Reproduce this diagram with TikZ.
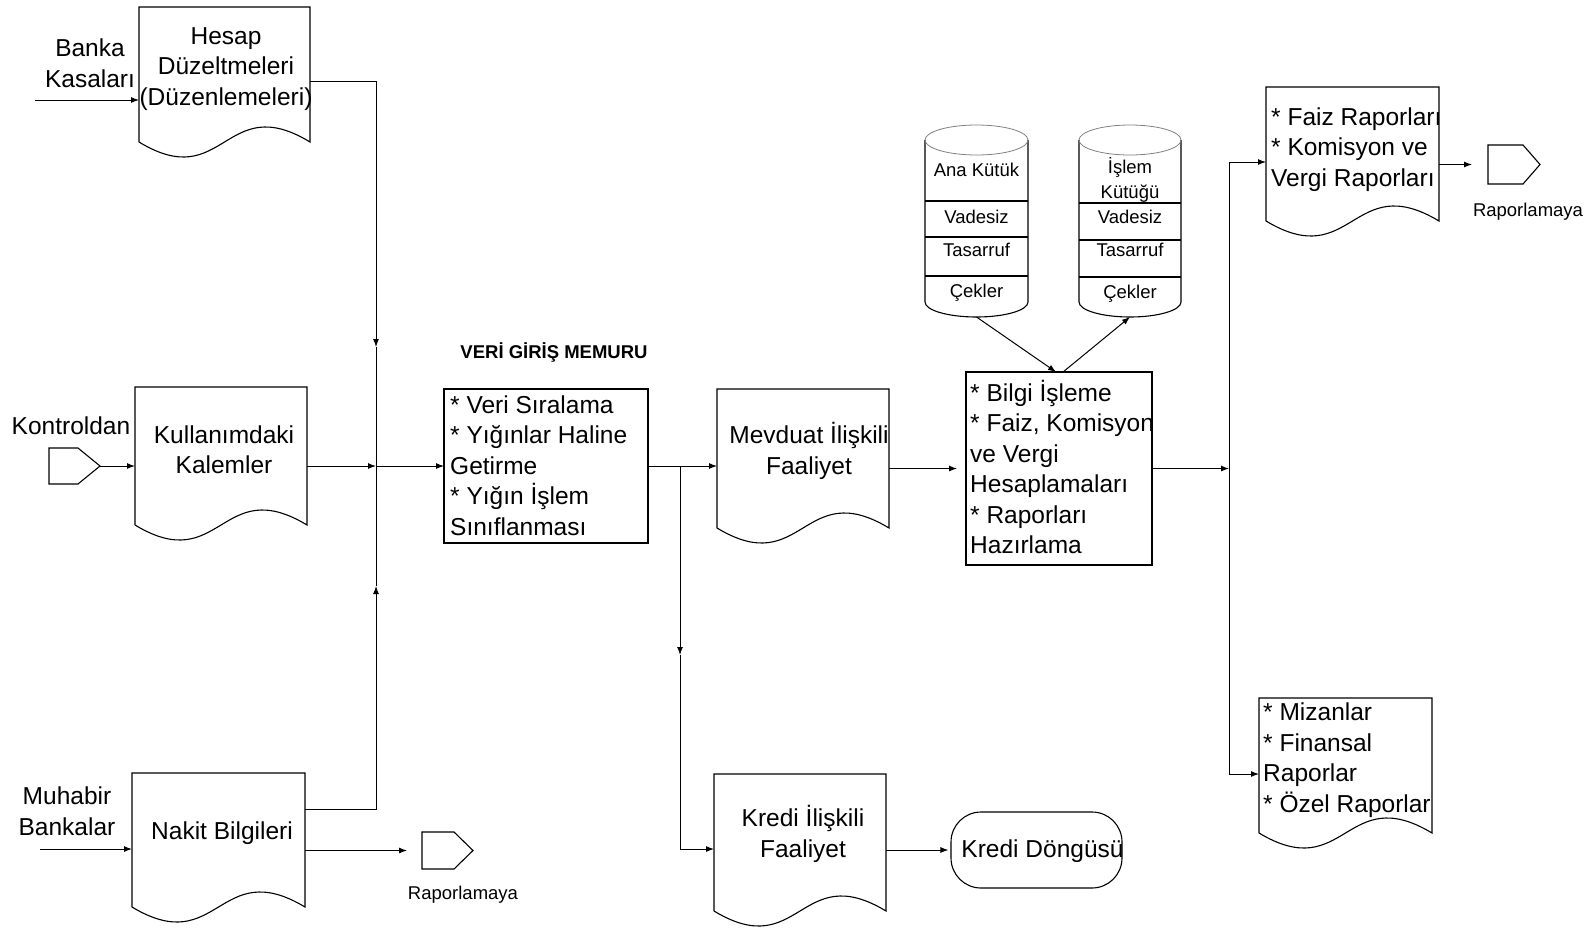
\documentclass[tikz,border=0pt]{standalone}
\usepackage{fontspec}
\setmainfont{Liberation Sans}
\usetikzlibrary{arrows.meta,calc}

\newcommand\mainfs{\fontsize{24.5}{30.5}\selectfont}
\newcommand\smallfs{\fontsize{18.5}{25}\selectfont}

% document symbol: straight top and sides, wavy bottom edge
\newcommand\docoutline[1]{%
  \draw[outline] (#1.south west) -- (#1.north west) -- (#1.north east) -- (#1.south east)
    .. controls ($(#1.south)+(0,-52)$) and ($(#1.south)+(0,52)$) .. (#1.south west);}
% off-page connector pointing right; #2 = length of the point
\newcommand\offpage[2]{%
  \draw[outline] (#1.north west) -- ($(#1.north east)+(-#2,0)$) -- (#1.east)
    -- ($(#1.south east)+(-#2,0)$) -- (#1.south west) -- cycle;}
% disk file: #2 = half width, #3-#5 = y of the record separators
\newcommand\diskfile[5]{%
  \draw[outline] (#1.north west) -- (#1.south west)
    arc[start angle=180,end angle=360,x radius=#2pt,y radius=15pt] -- (#1.north east);
  \draw[faint] (#1.north) ellipse[x radius=#2pt,y radius=15pt];
  \foreach \s in {#3,#4,#5} \draw[sepline] (#1.west |- 0,\s) -- (#1.east |- 0,\s);}

\tikzset{
  outline/.style={line width=1.1pt},
  faint/.style={line width=0.8pt, black!50},
  sepline/.style={line width=1.8pt},
  conn/.style={line width=1pt},
  arr/.style={conn,-{Latex[length=8pt,width=6pt]}},
  area/.style={inner sep=0, outer sep=0, anchor=north west},
  lbl/.style={inner sep=0, font=\mainfs, align=center},
  lbll/.style={inner sep=0, font=\mainfs, align=left, anchor=west},
  small/.style={inner sep=0, font=\smallfs, align=center},
}

\begin{document}
\begin{tikzpicture}[x=1pt,y=-1pt]
\useasboundingbox (0,0) rectangle (1592,929);

% ---- documents
\node[area, minimum width=171, minimum height=135] (hesap) at (139,7) {};
\node[area, minimum width=172, minimum height=138] (kul)   at (135,387) {};
\node[area, minimum width=173, minimum height=134] (nakit) at (132,773) {};
\node[area, minimum width=172, minimum height=139] (mev)   at (717,389) {};
\node[area, minimum width=172, minimum height=137] (kredi) at (714,774) {};
\node[area, minimum width=173, minimum height=134] (faiz)  at (1266,87) {};
\node[area, minimum width=173, minimum height=135] (mizan) at (1259,698) {};
\foreach \d in {hesap,kul,nakit,mev,kredi,faiz,mizan} {\docoutline{\d}}

\node[lbl] (hesapt) at (226,69) {Hesap\\Düzeltmeleri\\(Düzenlemeleri)};
\node[lbl] (kult)   at (224,449.5) {Kullanımdaki\\Kalemler};
\node[lbl] (nakitt) at (222,833) {Nakit Bilgileri};
\node[lbl] (mevt)   at (809,451) {Mevduat İlişkili\\Faaliyet};
\node[lbl] (kredit) at (803,834) {Kredi İlişkili\\Faaliyet};
\node[lbll] (faizt)  at (1271,149.5) {* Faiz Raporları\\* Komisyon ve\\Vergi Raporları};
\node[lbll] (mizant) at (1263,760) {* Mizanlar\\* Finansal\\Raporlar\\* Özel Raporlar};

% ---- processes
\node[area, draw, outline, minimum width=204, minimum height=154] (veri) at (444,389) {};
\node[lbll] (verit) at (450,465.5)
  {* Veri Sıralama\\* Yığınlar Haline\\Getirme\\* Yığın İşlem\\Sınıflanması};
\node[font=\bfseries\smallfs, inner sep=0] (memur) at (554,352) {VERİ GİRİŞ MEMURU};

\node[area, draw, outline, minimum width=186, minimum height=193] (bilgi) at (966,372) {};
\node[lbll] (bilgit) at (970,467)
  {* Bilgi İşleme\\* Faiz, Komisyon\\ve Vergi\\Hesaplamaları\\* Raporları\\Hazırlama};

% ---- disk files
\node[area, minimum width=103, minimum height=162] (cyla) at (925,140) {};
\node[area, minimum width=102, minimum height=162] (cylb) at (1079,140) {};
\diskfile{cyla}{51.5}{201}{237}{276}
\diskfile{cylb}{51}{203}{240}{277}
\node[small] (cylat1) at (976.5,170) {Ana Kütük};
\node[small] (cylat2) at (976.5,217) {Vadesiz};
\node[small] (cylat3) at (976.5,250) {Tasarruf};
\node[small] (cylat4) at (976.5,293) {Çekler};
\node[small] (cylbt1) at (1130,180) {İşlem\\Kütüğü};
\node[small] (cylbt2) at (1130,217) {Vadesiz};
\node[small] (cylbt3) at (1130,250) {Tasarruf};
\node[small] (cylbt4) at (1130,294) {Çekler};

% ---- terminal
\node[draw, outline, rounded corners=30pt, minimum width=171, minimum height=76, inner sep=0]
  (dongu) at (1036.5,850) {};
\node[lbl] (dongut) at (1042.5,851) {Kredi Döngüsü};

% ---- off-page connectors
\node[area, minimum width=51, minimum height=36] (kon)  at (49,448) {};
\node[area, minimum width=51, minimum height=37] (rapa) at (422,832) {};
\node[area, minimum width=52, minimum height=39] (rapb) at (1488,145) {};
\offpage{kon}{22}
\offpage{rapa}{19}
\offpage{rapb}{17}

% ---- free labels
\node[lbl] (bankal) at (90,63) {Banka\\Kasaları};
\node[lbl] (konl)   at (71,426) {Kontroldan};
\node[lbl] (muhl)   at (67,811) {Muhabir\\Bankalar};
\node[small] (rapal) at (463,895) {Raporlamaya};
\node[small] (rapbl) at (1528,212) {Raporlamaya};

% ---- connector points
\coordinate (bk) at (35,100);
\coordinate (mb) at (40,849);
\coordinate (jt) at (376,81);
\coordinate (ja) at (376,347);
\coordinate (jm) at (376,466);
\coordinate (jb) at (376,586);
\coordinate (jn) at (376,809);
\coordinate (br)  at (680,466);
\coordinate (bra) at (680,655);
\coordinate (brb) at (680,849);
\coordinate (vm) at (1229,468.5);
\coordinate (vt) at (1229,162);
\coordinate (vb) at (1229,774);
\coordinate (c1b) at ($(cyla.south)+(0,15)$);
\coordinate (c2b) at ($(cylb.south)+(0,15)$);

% ---- inputs
\draw[arr] (bk) -- (hesap.west |- bk);
\draw[arr] (kon.east) -- (kul.west |- kon.east);
\draw[arr] (mb) -- (nakit.west |- mb);

% ---- collecting line
\draw[arr] (hesap.east |- jt) -- (jt) -- (ja);
\draw[conn] (ja) -- (jm);
\draw[arr] (nakit.east |- jn) -- (jn) -- (jb);
\draw[conn] (jb) -- (jm);
\draw[arr] (kul.east |- jm) -- (jm);
\draw[arr] (jm) -- (veri.west |- jm);
\draw[arr, shorten >=15pt] (nakit.east |- rapa.west) -- (rapa.west);

% ---- deposit and credit branches
\draw[arr] (veri.east |- jm) -- (mev.west |- jm);
\draw[arr] (br) -- (bra);
\draw[conn] (bra) -- (brb);
\draw[arr] (brb) -- (kredi.west |- brb);
\draw[arr, shorten >=2pt] (kredi.east |- dongu.west) -- (dongu.west);
\draw[arr, shorten >=9pt] (mev.east |- bilgi.west) -- (bilgi.west);

% ---- files
\draw[arr] (c1b) -- ($(bilgi.north)+(-3,0)$);
\draw[arr] ($(bilgi.north)+(4,0)$) -- (c2b);

% ---- reports
\draw[arr] (bilgi.east) -- (vm);
\draw[conn] (vt) -- (vb);
\draw[arr] (vt) -- (faiz.west |- vt);
\draw[arr] (vb) -- (mizan.west |- vb);
\draw[arr, shorten >=16pt] (faiz.east |- rapb.west) -- (rapb.west);
\end{tikzpicture}
\end{document}
